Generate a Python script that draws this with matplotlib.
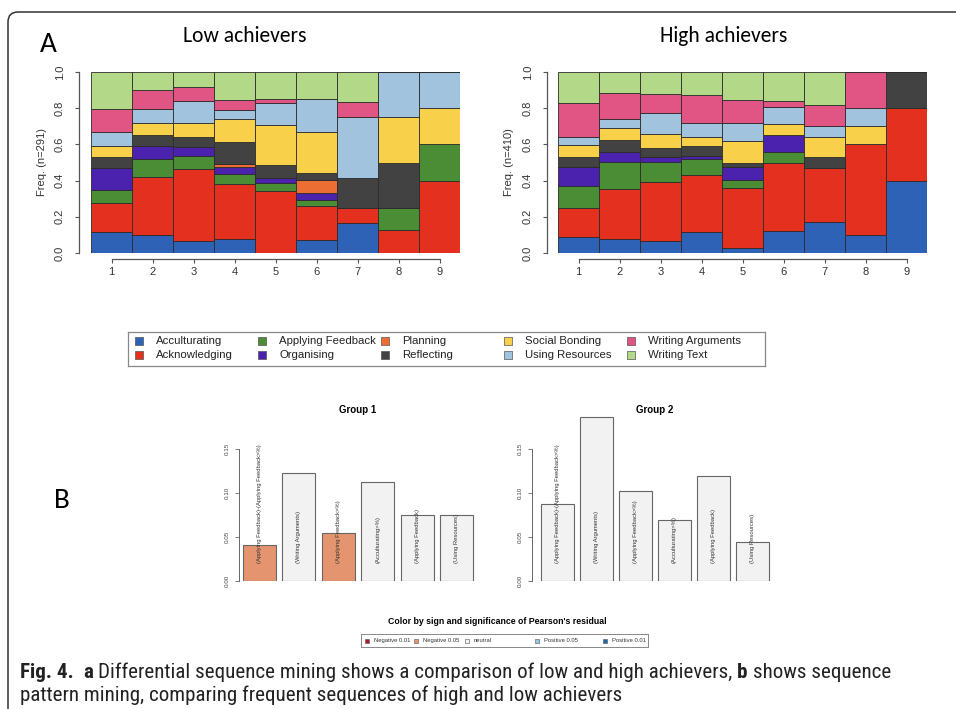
import matplotlib
matplotlib.use("Agg")
import matplotlib.pyplot as plt
import numpy as np
from matplotlib import font_manager
from matplotlib.patches import FancyBboxPatch

# ---- data -----------------------------------------------------------------
states = ["Acculturating", "Acknowledging", "Applying Feedback", "Organising",
          "Planning", "Reflecting", "Social Bonding", "Using Resources",
          "Writing Arguments", "Writing Text"]
state_colors = ["#2E62B6", "#E3301F", "#4B8D34", "#4A22AE", "#EC6E32",
                "#424242", "#F8D04A", "#A2C3DE", "#E15584", "#B3D887"]
positions = [1, 2, 3, 4, 5, 6, 7, 8, 9]

# share of every state (columns in `states` order) at each sequence position
low_freq = [
    [0.116, 0.159, 0.074, 0.123, 0.000, 0.060, 0.059, 0.079, 0.123, 0.207],
    [0.097, 0.321, 0.101, 0.074, 0.000, 0.058, 0.065, 0.082, 0.101, 0.101],
    [0.064, 0.398, 0.074, 0.047, 0.000, 0.056, 0.077, 0.124, 0.077, 0.083],
    [0.079, 0.301, 0.055, 0.042, 0.013, 0.125, 0.123, 0.051, 0.059, 0.152],
    [0.000, 0.343, 0.046, 0.024, 0.000, 0.071, 0.221, 0.124, 0.024, 0.147],
    [0.070, 0.187, 0.037, 0.036, 0.074, 0.040, 0.222, 0.184, 0.000, 0.150],
    [0.167, 0.083, 0.000, 0.000, 0.000, 0.167, 0.000, 0.333, 0.083, 0.167],
    [0.000, 0.125, 0.125, 0.000, 0.000, 0.250, 0.250, 0.250, 0.000, 0.000],
    [0.000, 0.400, 0.200, 0.000, 0.000, 0.000, 0.200, 0.200, 0.000, 0.000],
]
high_freq = [
    [0.088, 0.163, 0.120, 0.102, 0.000, 0.055, 0.068, 0.046, 0.187, 0.171],
    [0.077, 0.277, 0.151, 0.055, 0.000, 0.064, 0.064, 0.051, 0.147, 0.114],
    [0.064, 0.330, 0.111, 0.027, 0.000, 0.050, 0.075, 0.114, 0.106, 0.123],
    [0.116, 0.315, 0.088, 0.017, 0.000, 0.055, 0.051, 0.074, 0.156, 0.128],
    [0.028, 0.330, 0.046, 0.069, 0.000, 0.022, 0.123, 0.101, 0.129, 0.152],
    [0.119, 0.380, 0.057, 0.095, 0.000, 0.000, 0.061, 0.095, 0.033, 0.160],
    [0.174, 0.294, 0.000, 0.000, 0.000, 0.060, 0.114, 0.061, 0.117, 0.180],
    [0.100, 0.500, 0.000, 0.000, 0.000, 0.000, 0.100, 0.100, 0.200, 0.000],
    [0.400, 0.400, 0.000, 0.000, 0.000, 0.200, 0.000, 0.000, 0.000, 0.000],
]

pattern_labels = ["(Applying Feedback)-(Applying Feedback>%)", "(Writing Arguments)",
                  "(Applying Feedback>%)", "(Acculturating>%)",
                  "(Applying Feedback)", "(Using Resources)"]
group1_support = [0.041, 0.123, 0.055, 0.113, 0.075, 0.075]
group2_support = [0.088, 0.187, 0.102, 0.069, 0.120, 0.044]
group1_resid = ["Negative 0.05", "neutral", "Negative 0.05", "neutral", "neutral", "neutral"]
group2_resid = ["neutral"] * 6
resid_levels = ["Negative 0.01", "Negative 0.05", "neutral", "Positive 0.05", "Positive 0.01"]
resid_colors = ["#B2182B", "#E4956F", "#F2F2F2", "#92C5DE", "#2166AC"]

# ---- fonts ----------------------------------------------------------------
installed = {f.name for f in font_manager.fontManager.ttflist}


def pick(*names):
    for n in names:
        if n in installed:
            return n
    return "DejaVu Sans"


r_font = pick("Liberation Sans", "Arial")
title_font = pick("Carlito", "Lato", "Open Sans")
caption_font = pick("Liberation Sans Narrow", "Roboto Condensed", "Open Sans Condensed", "Lato")
plt.rcParams["font.family"] = r_font

W, H = 956, 709
fig = plt.figure(figsize=(W / 100, H / 100), dpi=100)


def px_axes(left, top, right, bottom):
    return fig.add_axes([left / W, 1 - bottom / H, (right - left) / W, (bottom - top) / H])


def fig_text(x, y, s, **kw):
    return fig.text(x / W, 1 - y / H, s, **kw)


# outer frame with a rounded corner
frame = FancyBboxPatch((0.08, -1.0), 12, 7.97, boxstyle="round,pad=0,rounding_size=0.1",
                       transform=fig.dpi_scale_trans, fill=False, edgecolor="#333333", linewidth=1.1)
fig.add_artist(frame)

# ---- panel A ---------------------------------------------------------------


def seq_panel(ax, freq, ylabel, spine_gap, label_x):
    freq = np.array(freq)
    bottom = np.zeros(len(positions))
    for j, (state, col) in enumerate(zip(states, state_colors)):
        ax.bar(positions, freq[:, j], width=1.0, bottom=bottom, color=col,
               edgecolor="#2b2b2b", linewidth=0.6, label=state)
        bottom += freq[:, j]
    ax.set_xlim(0.5, 9.5)
    ax.set_ylim(0, 1)
    ax.spines["top"].set_visible(False)
    ax.spines["right"].set_visible(False)
    ax.spines["left"].set_position(("outward", spine_gap * 0.72))
    ax.spines["bottom"].set_position(("outward", 6 * 0.72))
    ax.spines["left"].set_bounds(0, 1)
    ax.spines["bottom"].set_bounds(1, 9)
    for s in ["left", "bottom"]:
        ax.spines[s].set_color("#555555")
        ax.spines[s].set_linewidth(0.9)
    ax.set_xticks(positions)
    ax.set_yticks([0, 0.2, 0.4, 0.6, 0.8, 1.0])
    ax.set_yticklabels(["0.0", "0.2", "0.4", "0.6", "0.8", "1.0"], rotation=90, va="center")
    ax.tick_params(length=3, width=0.8, color="#555555", labelsize=8, labelcolor="#333333")
    ax.tick_params(axis="y", pad=7)
    ax.tick_params(axis="x", pad=3)
    ax.set_ylabel(ylabel, fontsize=8, color="#333333")
    ax.yaxis.set_label_coords(label_x, 0.5)


ax_low = px_axes(91, 72, 460, 253)
seq_panel(ax_low, low_freq, "Freq. (n=291)", 12, -0.118)
ax_high = px_axes(558, 72, 927, 253)
seq_panel(ax_high, high_freq, "Freq. (n=410)", 11, -0.118)

fig_text(48, 45, "A", fontsize=21, family=title_font, ha="center", va="center")
fig_text(245, 36, "Low achievers", fontsize=15.5, family=title_font, ha="center", va="center")
fig_text(724, 36, "High achievers", fontsize=15.5, family=title_font, ha="center", va="center")

# state legend, R style: equal column spacing
lax = px_axes(128, 332, 765, 366)
lax.set_xlim(128, 765)
lax.set_ylim(366, 332)
lax.set_xticks([])
lax.set_yticks([])
for s in lax.spines.values():
    s.set_color("#888888")
    s.set_linewidth(0.9)
for i, (state, col) in enumerate(zip(states, state_colors)):
    cx = 139 + 123 * (i // 2)
    cy = 341 + 14 * (i % 2)
    lax.scatter([cx], [cy], marker="s", s=26, color=col, edgecolors="#555555", linewidths=0.5)
    lax.text(cx + 17, cy, state, fontsize=8.2, va="center", ha="left", color="#222222")

# ---- panel B ---------------------------------------------------------------
fig_text(62, 500, "B", fontsize=21, family=title_font, ha="center", va="center")

bar_x = np.arange(len(pattern_labels)) * 1.2 + 0.7
resid_map = dict(zip(resid_levels, resid_colors))


def pattern_panel(ax, support, resid, title, x0, title_x):
    ax.bar(bar_x, support, width=1.0, color=[resid_map[r] for r in resid],
           edgecolor="#666666", linewidth=0.8)
    for x, lab in zip(bar_x, pattern_labels):
        ax.text(x, 0.02, lab, rotation=90, ha="center", va="bottom", fontsize=4.2, color="#333333")
    ax.set_xlim(x0, 7.322)
    ax.set_ylim(0, 0.19)
    for s in ["top", "right", "bottom"]:
        ax.spines[s].set_visible(False)
    ax.spines["left"].set_bounds(0, 0.15)
    ax.spines["left"].set_color("#666666")
    ax.spines["left"].set_linewidth(0.7)
    ax.set_xticks([])
    ax.set_yticks([0, 0.05, 0.10, 0.15])
    ax.set_yticklabels(["0.00", "0.05", "0.10", "0.15"], rotation=90, va="center")
    ax.tick_params(axis="y", length=3, width=0.6, color="#666666", labelsize=4.5,
                   labelcolor="#444444", pad=4)
    fig_text(title_x, 410, title, fontsize=7, fontweight="bold", ha="center", va="center")


ax_g1 = px_axes(239, 414.3, 477, 580.7)
pattern_panel(ax_g1, group1_support, group1_resid, "Group 1", 0.078, 358)
ax_g2 = px_axes(532, 414.3, 773, 580.7)
pattern_panel(ax_g2, group2_support, group2_resid, "Group 2", -0.074, 655)

fig_text(497, 622, "Color by sign and significance of Pearson's residual", fontsize=6.3,
         fontweight="bold", ha="center", va="center")
rax = px_axes(361, 634, 648, 647)
rax.set_xlim(361, 648)
rax.set_ylim(647, 634)
rax.set_xticks([])
rax.set_yticks([])
for s in rax.spines.values():
    s.set_color("#888888")
    s.set_linewidth(0.7)
for lvl, col, sx in zip(resid_levels, resid_colors, [367, 416, 467, 537, 605]):
    rax.scatter([sx], [640.5], marker="s", s=9, color=col, edgecolors="#555555", linewidths=0.4)
    rax.text(sx + 7, 640.5, lvl, fontsize=4.2, va="center", ha="left", color="#333333")

# ---- caption ---------------------------------------------------------------
renderer = fig.canvas.get_renderer()
probe = fig_text(20, 701, "pattern mining, comparing frequent sequences of high and low achievers",
                 fontsize=12, family=caption_font, va="baseline", ha="left", color="#222222")
cap_size = 12 * 600 / probe.get_window_extent(renderer).width
probe.set_fontsize(cap_size)


def rich_line(x, y, parts):
    a = fig_text(0, 0, "x x", fontsize=cap_size, family=caption_font)
    b = fig_text(0, 0, "xx", fontsize=cap_size, family=caption_font)
    sw = a.get_window_extent(renderer).width - b.get_window_extent(renderer).width
    a.remove()
    b.remove()
    for txt, bold in parts:
        x += (len(txt) - len(txt.lstrip(" "))) * sw
        t = fig_text(x, y, txt.strip(" "), fontsize=cap_size, family=caption_font,
                     fontweight="bold" if bold else "normal", va="baseline", ha="left", color="#222222")
        x += t.get_window_extent(renderer).width
        x += (len(txt) - len(txt.rstrip(" "))) * sw


rich_line(20, 678, [("Fig. 4.", True), ("  a", True),
                    (" Differential sequence mining shows a comparison of low and high achievers,", False),
                    (" b", True), (" shows sequence", False)])

fig.savefig("out.png", dpi=100)
